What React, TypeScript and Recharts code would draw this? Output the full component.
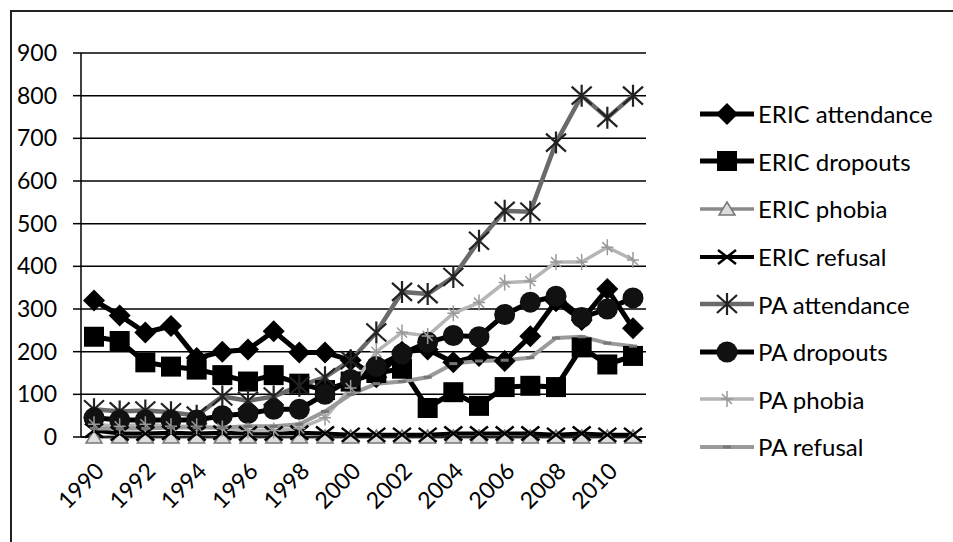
import React from "react";
import { LineChart, Line, XAxis, YAxis, CartesianGrid, Legend } from "recharts";

const years = [
  "1990", "1991", "1992", "1993", "1994", "1995", "1996", "1997", "1998", "1999", "2000",
  "2001", "2002", "2003", "2004", "2005", "2006", "2007", "2008", "2009", "2010", "2011",
];
const ericAttendance = [320, 285, 245, 260, 185, 200, 205, 248, 198, 198, 180, 140, 200, 205, 175, 190, 178, 236, 318, 274, 347, 255];
const ericDropouts = [235, 225, 175, 165, 158, 145, 130, 145, 125, 110, 130, 150, 160, 68, 105, 73, 117, 120, 117, 210, 170, 190];
const ericPhobia = [0, 0, 0, 0, 0, 0, 0, 0, 0, 0, 0, 0, 0, 0, 0, 0, 0, 0, 0, 0, 0, 0];
const ericRefusal = [15, 8, 8, 10, 8, 10, 8, 8, 10, 8, 5, 5, 5, 5, 8, 8, 8, 8, 5, 8, 5, 5];
const paAttendance = [65, 60, 62, 58, 50, 95, 85, 95, 120, 140, 180, 245, 340, 335, 375, 460, 530, 528, 690, 800, 748, 800];
const paDropouts = [45, 40, 40, 40, 40, 50, 55, 65, 65, 100, 135, 165, 195, 222, 238, 235, 287, 316, 330, 280, 300, 326];
const paPhobia = [30, 25, 30, 25, 25, 20, 15, 15, 20, 45, 115, 200, 245, 237, 290, 315, 362, 365, 410, 410, 445, 415];
const paRefusal = [20, 20, 20, 22, 22, 22, 25, 25, 30, 60, 100, 125, 130, 140, 172, 178, 180, 186, 232, 235, 220, 213];
const yTicks = [0, 100, 200, 300, 400, 500, 600, 700, 800, 900];

const FONT = "Lato, 'Open Sans', sans-serif";

type Kind = "diamond" | "square" | "triangle" | "x" | "asterisk" | "circle" | "cross" | "dash";

const series: { key: string; name: string; values: number[]; color: string; width: number; kind: Kind; mark: string }[] = [
  { key: "ea", name: "ERIC attendance", values: ericAttendance, color: "#000", width: 5, kind: "diamond", mark: "#000" },
  { key: "ed", name: "ERIC dropouts", values: ericDropouts, color: "#000", width: 5, kind: "square", mark: "#000" },
  { key: "ep", name: "ERIC phobia", values: ericPhobia, color: "#8a8a8a", width: 3.5, kind: "triangle", mark: "#777" },
  { key: "er", name: "ERIC refusal", values: ericRefusal, color: "#000", width: 4, kind: "x", mark: "#000" },
  { key: "pa", name: "PA attendance", values: paAttendance, color: "#6a6a6a", width: 4.5, kind: "asterisk", mark: "#222" },
  { key: "pd", name: "PA dropouts", values: paDropouts, color: "#000", width: 5, kind: "circle", mark: "#111" },
  { key: "pp", name: "PA phobia", values: paPhobia, color: "#b5b5b5", width: 3.5, kind: "cross", mark: "#999" },
  { key: "pr", name: "PA refusal", values: paRefusal, color: "#9a9a9a", width: 4, kind: "dash", mark: "#777" },
];

const data = years.map((year, i) => {
  const row: Record<string, string | number> = { year };
  series.forEach((s) => {
    row[s.key] = s.values[i];
  });
  return row;
});

function marker(kind: Kind, cx: number, cy: number, color: string, key?: string) {
  switch (kind) {
    case "diamond":
      return <path key={key} d={`M${cx},${cy - 11}L${cx + 11},${cy}L${cx},${cy + 11}L${cx - 11},${cy}Z`} fill={color} />;
    case "square":
      return <rect key={key} x={cx - 10} y={cy - 10} width={20} height={20} fill={color} />;
    case "triangle":
      return (
        <path key={key} d={`M${cx},${cy - 7}L${cx + 8},${cy + 6}L${cx - 8},${cy + 6}Z`} fill="#ddd" stroke={color} strokeWidth={1.5} />
      );
    case "x":
      return (
        <path key={key} d={`M${cx - 9},${cy - 7}L${cx + 9},${cy + 7}M${cx - 9},${cy + 7}L${cx + 9},${cy - 7}`} stroke={color} strokeWidth={2.5} />
      );
    case "asterisk":
      return (
        <path
          key={key}
          d={`M${cx - 10},${cy - 9}L${cx + 10},${cy + 9}M${cx - 10},${cy + 9}L${cx + 10},${cy - 9}M${cx},${cy - 11}L${cx},${cy + 11}`}
          stroke={color}
          strokeWidth={2.2}
        />
      );
    case "circle":
      return <circle key={key} cx={cx} cy={cy} r={10.5} fill={color} />;
    case "cross":
      return (
        <path
          key={key}
          d={`M${cx - 6},${cy}L${cx + 6},${cy}M${cx},${cy - 8}L${cx},${cy + 8}M${cx - 5},${cy - 5}L${cx + 5},${cy + 5}`}
          stroke={color}
          strokeWidth={1.5}
          fill="none"
        />
      );
    default:
      return <path key={key} d={`M${cx - 4},${cy}L${cx + 4},${cy}`} stroke={color} strokeWidth={3} />;
  }
}

const LegendBox = () => (
  <div style={{ fontFamily: FONT, fontSize: 24, color: "#000" }}>
    {series.map((s) => (
      <div key={s.key} style={{ display: "flex", alignItems: "center", height: 47.6 }}>
        <svg width={58} height={24} style={{ marginRight: 2 }}>
          <line x1={2} y1={12} x2={56} y2={12} stroke={s.color} strokeWidth={s.width} />
          {marker(s.kind, 29, 12, s.mark)}
        </svg>
        <span>{s.name}</span>
      </div>
    ))}
  </div>
);

export default function App() {
  return (
    <div style={{ position: "absolute", left: 0, top: 0, width: 953, height: 542, background: "#fff", overflow: "hidden" }}>
      <div
        style={{
          position: "absolute",
          left: 10,
          top: 10,
          width: 960,
          height: 560,
          borderLeft: "2px solid #222",
          borderTop: "2px solid #222",
        }}
      />
      <LineChart width={953} height={542} data={data} margin={{ top: 53, right: 307, bottom: 25, left: 0 }}>
        <CartesianGrid vertical={false} stroke="#000" strokeWidth={1.5} />
        <XAxis
          dataKey="year"
          interval={1}
          angle={-45}
          textAnchor="end"
          tickLine={false}
          tickMargin={18}
          axisLine={{ stroke: "#000", strokeWidth: 1.5 }}
          tick={{ fontSize: 23, fill: "#000", fontFamily: FONT }}
          padding={{ left: 13, right: 13 }}
          height={80}
        />
        <YAxis
          domain={[0, 900]}
          ticks={yTicks}
          width={81}
          tickSize={8}
          tickMargin={16}
          tickLine={{ stroke: "#000", strokeWidth: 1.5 }}
          axisLine={{ stroke: "#000", strokeWidth: 1.5 }}
          tick={{ fontSize: 23, fill: "#000", fontFamily: FONT }}
        />
        <Legend
          layout="vertical"
          align="center"
          verticalAlign="middle"
          content={() => <LegendBox />}
          wrapperStyle={{ position: "absolute", left: 698, top: 90, width: 255 }}
        />
        {series.map((s) => (
          <Line
            key={s.key}
            dataKey={s.key}
            name={s.name}
            type="linear"
            stroke={s.color}
            strokeWidth={s.width}
            isAnimationActive={false}
            dot={(p: any) => marker(s.kind, p.cx, p.cy, s.mark, `${s.key}-${p.index}`)}
            activeDot={false}
          />
        ))}
      </LineChart>
    </div>
  );
}
